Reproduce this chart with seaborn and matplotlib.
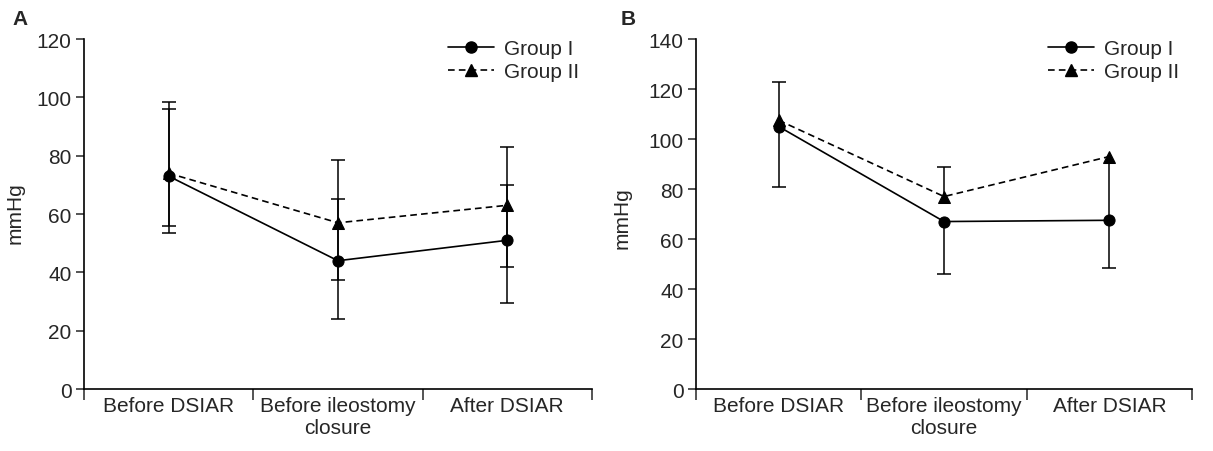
import matplotlib
matplotlib.use("Agg")
import matplotlib.pyplot as plt
import seaborn as sns
import pandas as pd
import numpy as np
from matplotlib.lines import Line2D

categories = ["Before DSIAR", "Before ileostomy\nclosure", "After DSIAR"]
groups = ["Group I", "Group II"]

# Panel A (mmHg)
a_g1_mean = [73, 44, 51]
a_g2_mean = [74, 57, 63]
a_g1_low = [53.5, 24, 29.5]
a_g1_high = [96, 65, 70]
a_g2_low = [56, 37.5, 42]
a_g2_high = [98.5, 78.5, 83]

# Panel B (mmHg)
b_g1_mean = [105, 67, 67.5]
b_g2_mean = [107.5, 77, 93]
b_g1_low = [81, 46, 48.5]          # lower bars of Group I (capped)
b_g2_high = [123, 89, np.nan]      # upper bars of Group II (capped)
b_g2_low_nocap = [np.nan, np.nan, 67.5]  # uncapped segment

a_yticks = [0, 20, 40, 60, 80, 100, 120]
b_yticks = [0, 20, 40, 60, 80, 100, 120, 140]

sns.set_style("ticks")
plt.rcParams['font.family'] = ['Liberation Sans', 'DejaVu Sans']
FS = 15

fig = plt.figure(figsize=(12.13, 4.52), dpi=100)
axA = fig.add_axes([0.0692, 0.137, 0.4188, 0.7745])
axB = fig.add_axes([0.5738, 0.137, 0.4089, 0.7745])

pos = np.arange(len(categories)) + 0.5


def draw_lines(ax, g1, g2):
    df = pd.DataFrame({
        "pos": np.concatenate([pos, pos]),
        "value": list(g1) + list(g2),
        "group": [groups[0]] * 3 + [groups[1]] * 3,
    })
    sns.lineplot(data=df, x="pos", y="value", style="group",
                 markers={"Group I": "o", "Group II": "^"},
                 dashes={"Group I": "", "Group II": (4, 2.5)},
                 color="black", markersize=8, linewidth=1.2,
                 markeredgecolor="black", legend=False, ax=ax, zorder=3)


def bars(ax, lo, hi, cap_lo=True, cap_hi=True):
    lo = np.asarray(lo, float)
    hi = np.asarray(hi, float)
    m = ~(np.isnan(lo) | np.isnan(hi))
    ax.vlines(pos[m], lo[m], hi[m], color="black", lw=1.1, zorder=2)
    if cap_lo:
        ax.plot(pos[m], lo[m], ls="none", marker="_", ms=10, mew=1.1,
                color="black", zorder=2)
    if cap_hi:
        ax.plot(pos[m], hi[m], ls="none", marker="_", ms=10, mew=1.1,
                color="black", zorder=2)


# Panel A
bars(axA, a_g1_low, a_g1_high)
bars(axA, a_g2_low, a_g2_high)
draw_lines(axA, a_g1_mean, a_g2_mean)

# Panel B
bars(axB, b_g1_low, b_g1_mean, cap_lo=True, cap_hi=False)
bars(axB, b_g2_mean, b_g2_high, cap_lo=False, cap_hi=True)
bars(axB, b_g2_low_nocap, b_g2_mean, cap_lo=False, cap_hi=False)
draw_lines(axB, b_g1_mean, b_g2_mean)

for ax, yt, ylx, yly in [(axA, a_yticks, -0.116, 0.506), (axB, b_yticks, -0.129, 0.49)]:
    ax.set_xlim(0, 3)
    ax.set_ylim(yt[0], yt[-1])
    ax.set_yticks(yt)
    ax.set_yticklabels([str(v) for v in yt], fontsize=FS)
    ax.set_xticks([0, 1, 2, 3])
    ax.set_xticklabels([])
    ax.set_xticks(pos, minor=True)
    ax.set_xticklabels(categories, minor=True, fontsize=FS)
    ax.tick_params(axis="x", which="major", length=8, width=1.1, direction="out")
    ax.tick_params(axis="x", which="minor", length=0, pad=5)
    ax.tick_params(axis="y", length=6, width=1.1, pad=3, direction="out")
    ax.set_xlabel("")
    ax.set_ylabel("mmHg", fontsize=FS)
    ax.yaxis.set_label_coords(ylx, yly)
    sns.despine(ax=ax)
    for s in ["left", "bottom"]:
        ax.spines[s].set_linewidth(1.2)
        ax.spines[s].set_color("black")
    handles = [
        Line2D([], [], color="black", lw=1.2, marker="o", ms=8, label=groups[0]),
        Line2D([], [], color="black", lw=1.2, ls=(0, (4, 2.5)), marker="^", ms=8, label=groups[1]),
    ]
    ax.legend(handles=handles, loc="upper right", bbox_to_anchor=(1.0, 1.035),
              frameon=False, fontsize=FS, handlelength=2.2, handletextpad=0.5,
              labelspacing=0.2, borderaxespad=0.2)

fig.text(0.010, 0.945, "A", fontsize=15, fontweight="bold")
fig.text(0.512, 0.945, "B", fontsize=15, fontweight="bold")

fig.savefig("out.png", dpi=100)
